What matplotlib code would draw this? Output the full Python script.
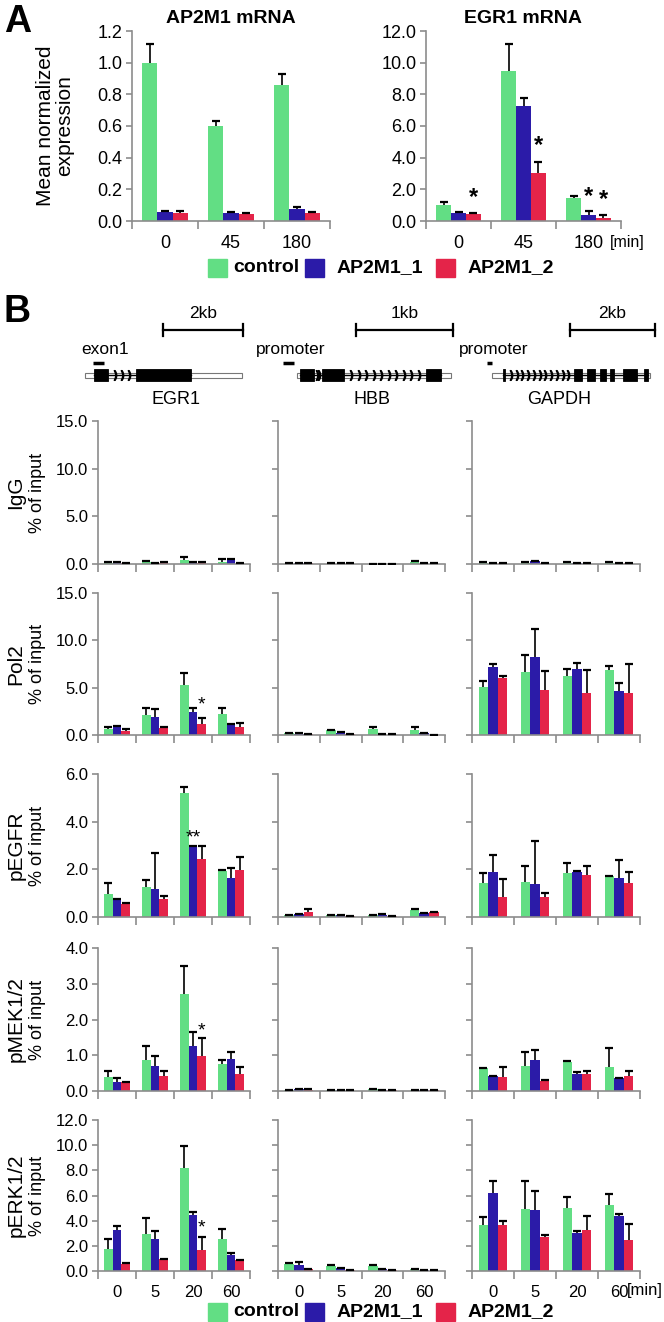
import matplotlib
matplotlib.use("Agg")
import matplotlib.pyplot as plt
import numpy as np
from matplotlib.patches import Rectangle

plt.rcParams['font.family'] = ['Liberation Sans', 'DejaVu Sans']

W, H = 664, 1322

groups = ['control', 'AP2M1_1', 'AP2M1_2']
colors = ['#62DE84', '#2B1BA8', '#E42449']
spine_gray = '#8c8c8c'

# ---- panel A data: mRNA expression ----
a_times = ['0', '45', '180']
ap2m1_mean = [[1.0, 0.60, 0.86], [0.057, 0.053, 0.076], [0.053, 0.046, 0.053]]
ap2m1_err = [[0.115, 0.03, 0.07], [0.004, 0.003, 0.01], [0.012, 0.004, 0.003]]
egr1_mean = [[1.01, 9.47, 1.47], [0.53, 7.26, 0.38], [0.46, 3.01, 0.21]]
egr1_err = [[0.2, 1.68, 0.1], [0.03, 0.5, 0.25], [0.03, 0.74, 0.17]]
# (time index, group index, y of star)
egr1_stars = [(0, 2, 0.75), (1, 2, 4.05), (2, 1, 0.85), (2, 2, 0.62)]

# ---- panel B data: ChIP, % of input ----
b_times = ['0', '5', '20', '60']
genes = ['EGR1', 'HBB', 'GAPDH']
rows = ['IgG', 'Pol2', 'pEGFR', 'pMEK1/2', 'pERK1/2']
row_ymax = [15, 15, 6, 4, 12]
row_ystep = [5, 5, 2, 1, 2]

igg_egr1 = [[0.15, 0.2, 0.4, 0.25], [0.15, 0.1, 0.15, 0.5], [0.1, 0.15, 0.15, 0.05]]
igg_egr1_err = [[0.03, 0.1, 0.35, 0.25], [0.02, 0.02, 0.02, 0.05], [0.02, 0.02, 0.02, 0.01]]
igg_hbb = [[0.05, 0.05, 0.02, 0.2], [0.1, 0.05, 0.02, 0.05], [0.1, 0.05, 0.02, 0.05]]
igg_hbb_err = [[0.01, 0.01, 0.01, 0.15], [0.01, 0.01, 0.01, 0.01], [0.01, 0.01, 0.01, 0.01]]
igg_gapdh = [[0.15, 0.15, 0.15, 0.15], [0.05, 0.3, 0.1, 0.05], [0.1, 0.1, 0.05, 0.1]]
igg_gapdh_err = [[0.02, 0.02, 0.02, 0.02], [0.01, 0.03, 0.01, 0.01], [0.01, 0.01, 0.01, 0.01]]

pol2_egr1 = [[0.67, 2.14, 5.33, 2.2], [0.95, 1.9, 2.4, 1.1], [0.38, 0.74, 1.2, 0.85]]
pol2_egr1_err = [[0.17, 0.66, 1.27, 0.6], [0.05, 0.8, 0.4, 0.05], [0.29, 0.06, 0.6, 0.4]]
pol2_hbb = [[0.2, 0.53, 0.67, 0.53], [0.15, 0.25, 0.05, 0.2], [0.1, 0.1, 0.05, 0.03]]
pol2_hbb_err = [[0.05, 0.05, 0.13, 0.35], [0.02, 0.03, 0.01, 0.05], [0.01, 0.01, 0.01, 0.01]]
pol2_gapdh = [[5.1, 6.7, 6.25, 6.85], [7.15, 8.25, 7.0, 4.6], [6.05, 4.75, 4.4, 4.45]]
pol2_gapdh_err = [[0.6, 1.7, 0.7, 0.45], [0.3, 2.95, 0.65, 0.9], [0.2, 2.0, 2.45, 3.0]]

pegfr_egr1 = [[0.96, 1.27, 5.22, 1.93], [0.73, 1.16, 2.95, 1.64], [0.56, 0.74, 2.43, 1.96]]
pegfr_egr1_err = [[0.47, 0.29, 0.22, 0.03], [0.02, 1.51, 0.02, 0.43], [0.02, 0.13, 0.54, 0.54]]
pegfr_hbb = [[0.08, 0.08, 0.07, 0.28], [0.12, 0.07, 0.1, 0.15], [0.2, 0.05, 0.03, 0.2]]
pegfr_hbb_err = [[0.01, 0.01, 0.01, 0.04], [0.01, 0.01, 0.01, 0.01], [0.12, 0.01, 0.01, 0.03]]
pegfr_gapdh = [[1.41, 1.48, 1.86, 1.72], [1.9, 1.38, 1.9, 1.62], [0.85, 0.85, 1.76, 1.41]]
pegfr_gapdh_err = [[0.45, 0.66, 0.39, 0.02], [0.72, 1.81, 0.02, 0.78], [0.75, 0.14, 0.38, 0.48]]

pmek_egr1 = [[0.38, 0.88, 2.72, 0.76], [0.24, 0.71, 1.27, 0.9], [0.25, 0.41, 0.97, 0.47]]
pmek_egr1_err = [[0.17, 0.37, 0.78, 0.1], [0.12, 0.26, 0.37, 0.18], [0.01, 0.16, 0.5, 0.2]]
pmek_hbb = [[0.02, 0.02, 0.05, 0.02], [0.05, 0.02, 0.02, 0.02], [0.04, 0.01, 0.02, 0.02]]
pmek_hbb_err = [[0.005, 0.005, 0.01, 0.005], [0.005, 0.005, 0.005, 0.005], [0.005, 0.005, 0.005, 0.005]]
pmek_gapdh = [[0.64, 0.69, 0.82, 0.66], [0.42, 0.86, 0.47, 0.36], [0.38, 0.29, 0.47, 0.42]]
pmek_gapdh_err = [[0.01, 0.41, 0.01, 0.55], [0.01, 0.3, 0.05, 0.01], [0.29, 0.01, 0.09, 0.13]]

perk_egr1 = [[1.78, 2.92, 8.22, 2.57], [3.29, 2.57, 4.43, 1.25], [0.58, 0.93, 1.7, 0.85]]
perk_egr1_err = [[0.74, 1.32, 1.7, 0.75], [0.26, 0.59, 0.26, 0.18], [0.02, 0.02, 1.0, 0.05]]
perk_hbb = [[0.55, 0.4, 0.4, 0.15], [0.45, 0.2, 0.15, 0.08], [0.12, 0.1, 0.05, 0.03]]
perk_hbb_err = [[0.08, 0.1, 0.05, 0.03], [0.25, 0.02, 0.02, 0.01], [0.01, 0.01, 0.01, 0.01]]
perk_gapdh = [[3.69, 4.96, 5.04, 5.23], [6.2, 4.88, 3.02, 4.38], [3.63, 2.68, 3.29, 2.44]]
perk_gapdh_err = [[0.61, 2.18, 0.85, 0.92], [0.94, 1.49, 0.16, 0.18], [0.32, 0.21, 1.09, 1.33]]

# significance stars in panel B: (row, gene col, time idx, group idx, y, label)
b_stars = [(1, 0, 2, 2, 2.3, '*'), (2, 0, 2, 1, 2.95, '**'),
           (3, 0, 2, 2, 1.45, '*'), (4, 0, 2, 2, 2.75, '*')]

b_means = [[igg_egr1, igg_hbb, igg_gapdh],
           [pol2_egr1, pol2_hbb, pol2_gapdh],
           [pegfr_egr1, pegfr_hbb, pegfr_gapdh],
           [pmek_egr1, pmek_hbb, pmek_gapdh],
           [perk_egr1, perk_hbb, perk_gapdh]]
b_errs = [[igg_egr1_err, igg_hbb_err, igg_gapdh_err],
          [pol2_egr1_err, pol2_hbb_err, pol2_gapdh_err],
          [pegfr_egr1_err, pegfr_hbb_err, pegfr_gapdh_err],
          [pmek_egr1_err, pmek_hbb_err, pmek_gapdh_err],
          [perk_egr1_err, perk_hbb_err, perk_gapdh_err]]


def px_axes(fig, x0, y0, x1, y1):
    # pixel box (top-left origin) -> axes
    return fig.add_axes([x0 / W, 1 - y1 / H, (x1 - x0) / W, (y1 - y0) / H])


def bar_panel(ax, means, errs, ymax, ystep, fmt, show_x, labels, tsize):
    n = len(means[0])
    x = np.arange(n)
    bw = 0.23
    for g in range(3):
        xs = x + (g - 1) * bw
        m = np.array(means[g])
        e = np.array(errs[g])
        ax.bar(xs, m, width=bw, color=colors[g], edgecolor='none', zorder=2)
        ax.errorbar(xs, m, yerr=[np.zeros(n), e], fmt='none', ecolor='black',
                    elinewidth=1.2, capsize=0, zorder=3)
        ax.plot(xs, m + e, ls='none', marker='_', ms=6, mew=1.6, color='black', zorder=3)
    ax.set_xlim(-0.5, n - 0.5)
    ax.set_ylim(0, ymax)
    ax.set_yticks(np.arange(0, ymax + 0.001, ystep))
    ax.set_yticklabels([fmt % v for v in np.arange(0, ymax + 0.001, ystep)])
    ax.set_xticks(x)
    ax.set_xticks(np.arange(-0.5, n, 1.0), minor=True)
    if show_x:
        ax.set_xticklabels(labels)
    else:
        ax.set_xticklabels([])
    ax.tick_params(axis='x', which='major', length=0, pad=10, labelsize=tsize)
    ax.tick_params(axis='x', which='minor', length=6, width=1.2, color=spine_gray)
    ax.tick_params(axis='y', length=4, width=1.2, color=spine_gray, labelsize=tsize, pad=3)
    for s in ['top', 'right']:
        ax.spines[s].set_visible(False)
    for s in ['left', 'bottom']:
        ax.spines[s].set_color(spine_gray)
        ax.spines[s].set_linewidth(1.2)
    ax.set_facecolor('none')


def legend_row(fig, y):
    items = [(208, 233), (305, 337), (436, 468)]
    for g, (px, tx) in enumerate(items):
        fig.patches.append(Rectangle((px / W, 1 - (y + 9) / H), 19 / W, 18 / H,
                                     transform=fig.transFigure, color=colors[g]))
        fig.text(tx / W, 1 - y / H, groups[g], fontsize=14, fontweight='bold',
                 ha='left', va='center')


fig = plt.figure(figsize=(W / 100, H / 100), dpi=100)

# ---------------- panel A ----------------
fig.text(4 / W, 1 - 4 / H, 'A', fontsize=27, fontweight='bold', ha='left', va='top')
axA1 = px_axes(fig, 132, 31, 330, 221)
bar_panel(axA1, ap2m1_mean, ap2m1_err, 1.2, 0.2, '%.1f', True, a_times, 13)
axA1.set_title('AP2M1 mRNA', fontsize=14, fontweight='bold', pad=6)
axA2 = px_axes(fig, 426, 31, 621, 221)
bar_panel(axA2, egr1_mean, egr1_err, 12, 2, '%.1f', True, a_times, 13)
axA2.set_title('EGR1 mRNA', fontsize=14, fontweight='bold', pad=6)
for t, g, y in egr1_stars:
    axA2.text(t + (g - 1) * 0.23, y, '*', ha='center', va='bottom', fontsize=17,
              fontweight='bold')
fig.text(55 / W, 1 - 126 / H, 'Mean normalized\nexpression', rotation=90,
         ha='center', va='center', fontsize=15, linespacing=1.05)
fig.text(610 / W, 1 - 243 / H, '[min]', fontsize=11.5, ha='left', va='center')
legend_row(fig, 268)

# ---------------- panel B ----------------
fig.text(4 / W, 1 - 294 / H, 'B', fontsize=27, fontweight='bold', ha='left', va='top')

# gene diagrams drawn in pixel coordinates
axg = px_axes(fig, 0, 290, W, 415)
axg.set_xlim(0, W)
axg.set_ylim(415, 290)
axg.axis('off')

scalebars = [(163, 243, '2kb'), (356, 453, '1kb'), (570, 655, '2kb')]
probe_labels = [(105, 'exon1'), (291, 'promoter'), (494, 'promoter')]
probes = [(93, 104), (283, 294), (487, 492)]
bodies = [(85, 242), (297, 451), (492, 650)]
exons = [[(94, 108), (136, 191)],
         [(300, 314), (322, 344), (426, 441)],
         [(503, 505), (574, 582), (587, 595), (600, 606), (610, 614), (623, 637), (644, 648)]]
introns = [[(108, 136, 3)],
           [(314, 322, 2), (344, 426, 10)],
           [(505, 574, 11)]]
name_x = [176, 372, 559]

for i in range(3):
    x0, x1, lab = scalebars[i]
    axg.plot([x0, x1], [330, 330], color='black', lw=1.6)
    axg.plot([x0, x0], [324, 336], color='black', lw=1.6)
    axg.plot([x1, x1], [324, 336], color='black', lw=1.6)
    axg.text((x0 + x1) / 2, 321, lab, ha='center', va='bottom', fontsize=12.5)
    px, lab2 = probe_labels[i]
    axg.text(px, 357, lab2, ha='center', va='bottom', fontsize=12.5)
    axg.plot(probes[i], [363, 363], color='black', lw=2.5, solid_capstyle='butt')
    b0, b1 = bodies[i]
    axg.add_patch(Rectangle((b0, 372.5), b1 - b0, 5, facecolor='white',
                            edgecolor='#777777', lw=0.8, zorder=1))
    axg.plot([exons[i][0][0], exons[i][-1][1]], [375, 375], color='black', lw=1.0, zorder=2)
    for e0, e1 in exons[i]:
        axg.add_patch(Rectangle((e0, 369), e1 - e0, 12, facecolor='black',
                                edgecolor='black', lw=0.6, zorder=3))
    for s0, s1, k in introns[i]:
        step = (s1 - s0) / (k + 1)
        xs = s0 + step * np.arange(1, k + 1)
        axg.plot(xs, np.full(k, 375), ls='none', marker='$)$', ms=7, color='black', zorder=3)
    axg.text(name_x[i], 400, genes[i], ha='center', va='center', fontsize=13)

col_x = [(98, 250), (278, 445), (472, 640)]
row_y = [(421, 564), (593, 735), (774, 917), (948, 1091), (1120, 1271)]

axes_b = []
for r in range(5):
    axrow = []
    for c in range(3):
        ax = px_axes(fig, col_x[c][0], row_y[r][0], col_x[c][1], row_y[r][1])
        bar_panel(ax, b_means[r][c], b_errs[r][c], row_ymax[r], row_ystep[r], '%.1f',
                  r == 4, b_times, 12)
        if c > 0:
            ax.set_yticklabels([])
        axrow.append(ax)
    axes_b.append(axrow)
    yc = (row_y[r][0] + row_y[r][1]) / 2
    fig.text(16 / W, 1 - yc / H, rows[r], rotation=90, ha='center', va='center', fontsize=15)
    fig.text(38 / W, 1 - yc / H, '% of input', rotation=90, ha='center', va='center',
             fontsize=13)

for r, c, t, g, y, lab in b_stars:
    axes_b[r][c].text(t + (g - 1) * 0.23, y, lab, ha='center', va='bottom', fontsize=14)

fig.text(627 / W, 1 - 1290 / H, '[min]', fontsize=12, ha='left', va='center')
legend_row(fig, 1312)

fig.savefig('out.png', dpi=100)
